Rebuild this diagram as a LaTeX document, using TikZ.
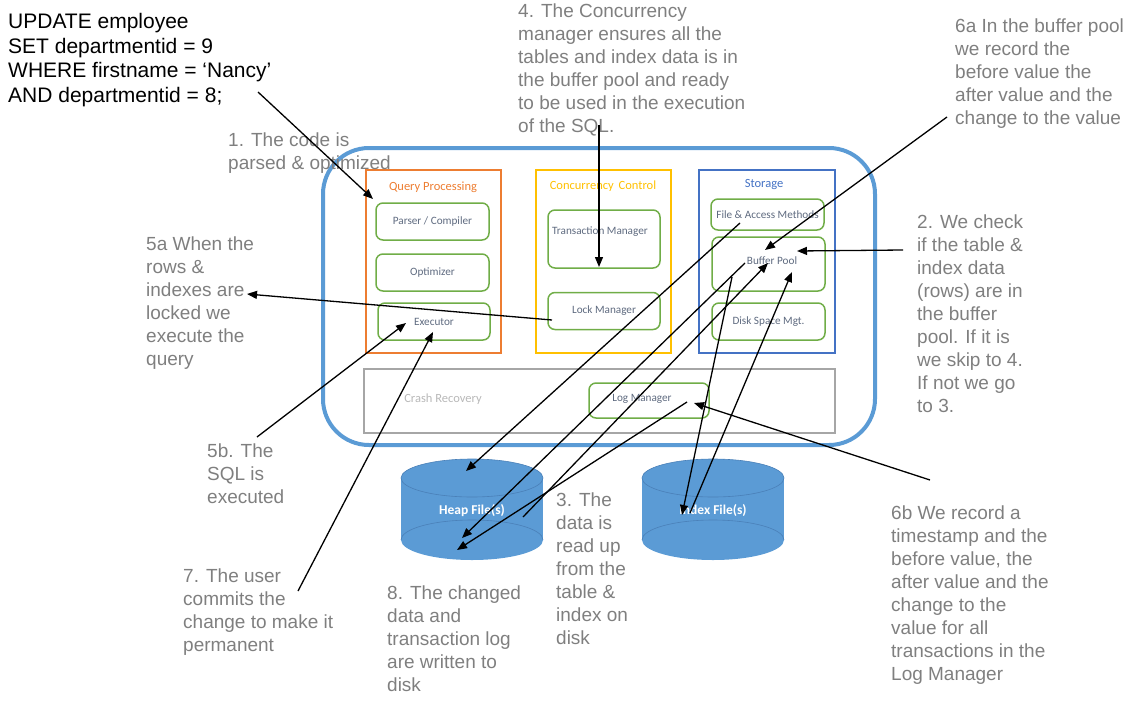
\documentclass[tikz,border=0pt]{standalone}
\usepackage{fontspec}
\setmainfont{Liberation Sans}
\newfontfamily\boxfont{Carlito}
\usepackage{tikz}
\usetikzlibrary{arrows.meta}

\definecolor{frameblue}{HTML}{5B9BD5}
\definecolor{qporange}{HTML}{ED7D31}
\definecolor{ccyellow}{HTML}{FFC000}
\definecolor{stblue}{HTML}{4472C4}
\definecolor{compgreen}{HTML}{70AD47}
\definecolor{boxtext}{HTML}{5F6B80}
\definecolor{notegray}{HTML}{7F7F7F}
\definecolor{crashgray}{HTML}{A6A6A6}
\definecolor{diskline}{HTML}{4A80B8}

\begin{document}
\begin{tikzpicture}[
    x=1pt, y=-1pt, % one unit per pixel, y grows downwards
    note/.style={
        anchor=north west, % text hangs from its top left corner
        inner sep=0pt,
        align=left,
        text=notegray,
        font=\fontsize{19}{23}\selectfont
    },
    panel/.style={
        draw, % coloured frame of a subsystem
        line width=2pt,
        minimum width=135pt,
        minimum height=183pt
    },
    paneltitle/.style={font=\boxfont\fontsize{12.5}{14}\selectfont, inner sep=0pt},
    comp/.style={
        draw=compgreen, % component box
        line width=1.5pt,
        rounded corners=7pt,
        fill=white,
        minimum width=113pt,
        minimum height=37pt,
        text=boxtext,
        font=\boxfont\fontsize{11.2}{13}\selectfont
    },
    lbl/.style={text=boxtext, font=\boxfont\fontsize{11.2}{13}\selectfont, inner sep=0pt},
    disklbl/.style={text=white, font=\boxfont\bfseries\fontsize{13.5}{15}\selectfont, inner sep=0pt},
    arr/.style={-{Triangle[length=10pt,width=8pt]}, line width=1.3pt} % black pointer arrows
]
\useasboundingbox (0,0) rectangle (1144,702);

% the database engine
\node[draw=frameblue, line width=4pt, rounded corners=46pt,
      minimum width=552pt, minimum height=297pt] (dbms) at (599,296.5) {};

\node[panel, draw=qporange] (qp) at (433.5,261.5) {};
\node[paneltitle, text=qporange] (qptitle) at (433,187) {Query Processing};
\node[comp] (parser) at (432.5,221.5) {Parser / Compiler};
\node[comp] (optim) at (432.5,272.5) {Optimizer};
\node[comp, minimum width=112pt] (exec) at (434,321.5) {Executor};

\node[panel, draw=ccyellow] (cc) at (603.5,261.5) {};
\node[paneltitle, text=ccyellow] (cctitle) at (603,186) {Concurrency\, Control};
\node[comp, minimum width=112pt, minimum height=58pt] (txn) at (604,239) {};
\node[lbl] (txnlbl) at (600,232) {Transaction Manager};
\node[comp, minimum width=112pt] (lock) at (604,311) {Lock Manager};

\node[panel, draw=stblue, minimum width=136pt] (st) at (767,261.5) {};
\node[paneltitle, text=stblue] (sttitle) at (764,185) {Storage};
\node[comp, minimum height=31pt] (fam) at (767.5,214.5) {File \& Access Methods};
\node[comp, minimum height=54pt] (buf) at (768.5,264) {};
\node[lbl] (buflbl) at (772,261) {Buffer Pool};
\node[comp] (dsm) at (768.5,321.5) {Disk Space Mgt.};

\node[draw=crashgray, line width=2pt, minimum width=471pt, minimum height=64pt] (crash) at (599,400.5) {};
\node[lbl, text=crashgray!80, font=\boxfont\fontsize{12.5}{14}\selectfont] (crashlbl) at (443,399) {Crash Recovery};
\node[comp, minimum width=120pt, minimum height=35pt] (logm) at (649,400.5) {};
\node[lbl] (loglbl) at (642,399) {Log Manager};

% disk files
\foreach \cx/\nm/\txt in {472/heap/Heap File(s), 713/index/Index File(s)} {
    \fill[frameblue] (\cx-71,478) rectangle (\cx+71,540);
    \fill[frameblue] (\cx,540) ellipse [x radius=71pt, y radius=20pt];
    \fill[frameblue] (\cx,478) ellipse [x radius=71pt, y radius=19pt];
    \draw[diskline, line width=0.6pt] (\cx,478) ellipse [x radius=71pt, y radius=19pt];
    \draw[diskline, line width=0.6pt] (\cx-71,540) arc [start angle=180, end angle=0, x radius=71pt, y radius=20pt];
    \node[disklbl] (\nm) at (\cx,511) {\txt};
}

% notes
\node[anchor=north west, inner sep=0pt, align=left, font=\fontsize{21}{24.6}\selectfont] (sql)
    at (8,13) {UPDATE employee\\SET departmentid = 9\\WHERE firstname = ‘Nancy’\\AND departmentid = 8;};
\node[note] (n1) at (228,133) {1. The code is\\parsed \& optimized};
\node[note] (n4) at (518,4) {4. The Concurrency\\manager ensures all the\\tables and index data is in\\the buffer pool and ready\\to be used in the execution\\of the SQL.};
\node[note] (n6a) at (955,19) {6a In the buffer pool\\we record the\\before value the\\after value and the\\change to the value};
\node[note] (n2) at (917,215) {2. We check\\if the table \&\\index data\\(rows) are in\\the buffer\\pool. If it is\\we skip to 4.\\If not we go\\to 3.};
\node[note] (n5a) at (146,237) {5a When the\\rows \&\\indexes are\\locked we\\execute the\\query};
\node[note] (n5b) at (207,444) {5b. The\\SQL is\\executed};
\node[note] (n3) at (556,493) {3. The\\data is\\read up\\from the\\table \&\\index on\\disk};
\node[note] (n7) at (183,569) {7. The user\\commits the\\change to make it\\permanent};
\node[note] (n8) at (387,586) {8. The changed\\data and\\transaction log\\are written to\\disk};
\node[note] (n6b) at (891,506) {6b We record a\\timestamp and the\\before value, the\\after value and the\\change to the\\value for all\\transactions in the\\Log Manager};

% arrow ends
\coordinate (sqlend) at (258,92);
\coordinate (qpin) at (373,199);
\coordinate (n4s) at (599,125);
\coordinate (txnin) at (599,267);
\coordinate (n6as) at (947,117);
\coordinate (bufa) at (765,250);
\coordinate (n2s) at (903,250);
\coordinate (bufb) at (797,251);
\coordinate (locks) at (552,320);
\coordinate (n5ae) at (247,294);
\coordinate (n5bs) at (257,437);
\coordinate (execa) at (406,323);
\coordinate (n7s) at (298,591);
\coordinate (execb) at (433,332);
\coordinate (fams) at (740,223);
\coordinate (heaptop) at (466,471);
\coordinate (bufs1) at (745,263);
\coordinate (heapa) at (462,538);
\coordinate (heaps) at (523,517);
\coordinate (bufc) at (768,263);
\coordinate (logs) at (687,402);
\coordinate (heapb) at (457,550);
\coordinate (bufs2) at (732,277);
\coordinate (indexa) at (682,515);
\coordinate (indexs) at (690,513);
\coordinate (bufd) at (792,272);
\coordinate (n6bs) at (930,480);
\coordinate (login) at (694,403);

\draw[arr] (sqlend) -- (qpin);
\draw[arr] (n4s) -- (txnin);
\draw[arr] (n6as) -- (bufa);
\draw[arr] (n2s) -- (bufb);
\draw[arr] (locks) -- (n5ae);
\draw[arr] (n5bs) -- (execa);
\draw[arr] (n7s) -- (execb);
\draw[arr] (fams) -- (heaptop);
\draw[arr] (bufs1) -- (heapa);
\draw[arr] (heaps) -- (bufc);
\draw[arr] (logs) -- (heapb);
\draw[arr] (bufs2) -- (indexa);
\draw[arr] (indexs) -- (bufd);
\draw[arr] (n6bs) -- (login);
\end{tikzpicture}
\end{document}
